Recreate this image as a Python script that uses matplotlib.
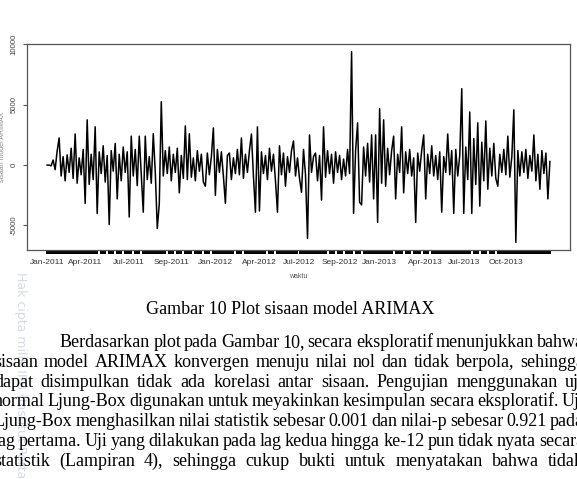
import matplotlib

matplotlib.use("Agg")
import matplotlib.pyplot as plt
import numpy as np

W, H = 577, 479


def fx(px):
    return px / W


def fy(py):
    return 1 - py / H


residuals = [
    0, 0, -60, 420, -380, 1150, 2250, -900, 700, -1300, 850, -600,
    1400, -1100, 2580, -1500, 600, -800, 1300, -3170, 3750, -1600, 900, -1200,
    3170, -4000, 1100, -700, 1600, -1400, 800, -4920, 1200, -500, 1800, -2800,
    900, -1300, 1500, -600, 1100, -4300, 2400, -900, 1300, -1700, 2400, -800,
    -3900, 2400, -1200, 700, -1500, 2600, -600, -5250, -3200, 5250, -900, 1200,
    -700, 1500, -1300, 900, -600, 1400, -2300, 800, -1100, 3250, -1200, 2600,
    -1000, 600, -1300, 1200, -500, 900, -1400, -1750, 1000, -800, 700, 3080,
    -2500, 1300, -600, 1100, -900, -3170, 800, 1000, -1200, 600, -700, 1300,
    -800, 2250, -1100, 900, -600, 1200, 2580, -900, -3900, 3170, -3800, 1100,
    -700, 800, -1200, 1400, -500, 900, -1300, -3900, 1600, -800, 1000, -1750,
    700, -600, 1200, 2000, -900, 600, -1100, -2250, 1300, -800, -6080, 2500,
    -600, 700, 1000, -1300, 800, -2900, 3170, -1000, 1200, -700, 900, -1500,
    1100, -600, 800, -1200, 500, -900, 1300, -700, 9400, -4000, 1200, 3500,
    -3080, -3300, 1500, -900, 1800, -1400, 2500, -2800, 2500, -4750, 4670, -1500,
    3750, -1750, 1400, -800, 1200, 2400, -2800, 900, -600, 3170, -2300, 1100,
    -700, 1300, -900, 600, -4750, 1000, -500, 1200, 2500, -2800, 900, -700,
    1600, -900, 800, -1200, 1100, -3900, 700, -600, 2580, -800, 1200, -4000,
    1300, -900, 800, 6330, -4000, 1500, -1200, 4400, -4000, 2200, -1600, 3500,
    -3400, 1900, -1300, 3660, -2000, 1400, -900, 1800, -1100, -1750, 900, -600,
    1300, -800, 2400, -1000, 700, 4580, -6400, 1200, -900, 1100, -600, 1300,
    -1100, 800, -500, 2500, -1300, 900, -2000, 1200, -700, 1000, -2800, 300,
]

label_idx = [0, 19, 41, 62, 84, 106, 126, 146, 166, 189, 208, 229]
label_txt = [
    "Jan-2011", "Apr-2011", "Jul-2011", "Sep-2011", "Jan-2012", "Apr-2012",
    "Jul-2012", "Sep-2012", "Jan-2013", "Apr-2013", "Jul-2013", "Oct-2013",
]
# observations without a tick mark (white gaps in the tick band)
tick_gaps = [26, 30, 34, 38, 43, 47, 60, 64, 68, 73, 78, 82, 94, 98, 110, 114,
             140, 144, 148, 153, 157, 173, 178, 182, 187, 191, 208, 212, 216,
             220, 224]
y_ticks = [-5000, 0, 5000, 10000]
y_tick_txt = ["-5000", "0", "5000", "10000"]

caption = "Gambar 10 Plot sisaan model ARIMAX"
para_lines = [
    "Berdasarkan plot pada Gambar 10, secara eksploratif menunjukkan bahwa",
    "sisaan model ARIMAX konvergen menuju nilai nol dan tidak berpola, sehingga",
    "dapat disimpulkan tidak ada korelasi antar sisaan. Pengujian menggunakan uji",
    "normal Ljung-Box digunakan untuk meyakinkan kesimpulan secara eksploratif. Uji",
    "Ljung-Box menghasilkan nilai statistik sebesar 0.001 dan nilai-p sebesar 0.921 pada",
    "lag pertama. Uji yang dilakukan pada lag kedua hingga ke-12 pun tidak nyata secara",
    "statistik (Lampiran 4), sehingga cukup bukti untuk menyatakan bahwa tidak",
]

fig = plt.figure(figsize=(W / 100, H / 100), dpi=100)

# watermark in the left margin
fig.text(fx(20), fy(272), "Hak cipta milik IPB (Institut Pertanian Bogor)",
         rotation=-90, ha="center", va="top", fontsize=9,
         family="DejaVu Sans", color="#b4bcd0", alpha=0.55)

ax = fig.add_axes([fx(27), fy(250), fx(570) - fx(27), fy(44) - fy(250)])
x = np.arange(len(residuals))
ax.plot(x, residuals, color="black", lw=1.1)

n = len(residuals)
ax.set_xlim(-0.04 * (n - 1), (n - 1) * 1.04)
lo, hi = min(residuals), max(residuals)
span = hi - lo
ax.set_ylim(lo - 0.04 * span, hi + 0.04 * span)

for s in ax.spines.values():
    s.set_color("#555555")
    s.set_linewidth(0.9)

ax.set_xticks(label_idx)
ax.set_xticklabels(label_txt, fontsize=6, family="Liberation Sans", color="#333333")
minor = [i for i in range(n) if i not in label_idx and i not in tick_gaps]
ax.set_xticks(minor, minor=True)
ax.tick_params(axis="x", which="both", length=3, width=1.4, color="black", pad=3.5)

ax.set_yticks(y_ticks)
ax.set_yticklabels(y_tick_txt, fontsize=5.6, family="Liberation Sans",
                   color="#444444", rotation=90, va="center")
ax.tick_params(axis="y", length=3, width=0.8, color="#555555", pad=4)

ax.set_xlabel("waktu", fontsize=5, family="Liberation Sans", color="#555555", labelpad=5)
fig.text(fx(3), fy(147), "sisaan model ARIMAX", rotation=90, ha="center",
         va="center", fontsize=5, family="Liberation Sans", color="#888888")

fig.text(fx(290), fy(309), caption, ha="center", va="center", fontsize=13,
         family="Liberation Serif", color="black")


def justify(words, base, left, right, size):
    objs = [fig.text(0, fy(base), w, fontsize=size, family="Liberation Serif",
                     va="baseline", color="black") for w in words]
    r = fig.canvas.get_renderer()
    widths = [o.get_window_extent(r).width for o in objs]
    gap = (right - left - sum(widths)) / (len(words) - 1)
    pos = left
    for o, wd in zip(objs, widths):
        o.set_x(fx(pos))
        pos += wd + gap


for k, line in enumerate(para_lines):
    left = 60 if k == 0 else -6
    justify(line.split(), 347 + 19.8 * k, left, 584, 13)

fig.savefig("out.png", dpi=100)
